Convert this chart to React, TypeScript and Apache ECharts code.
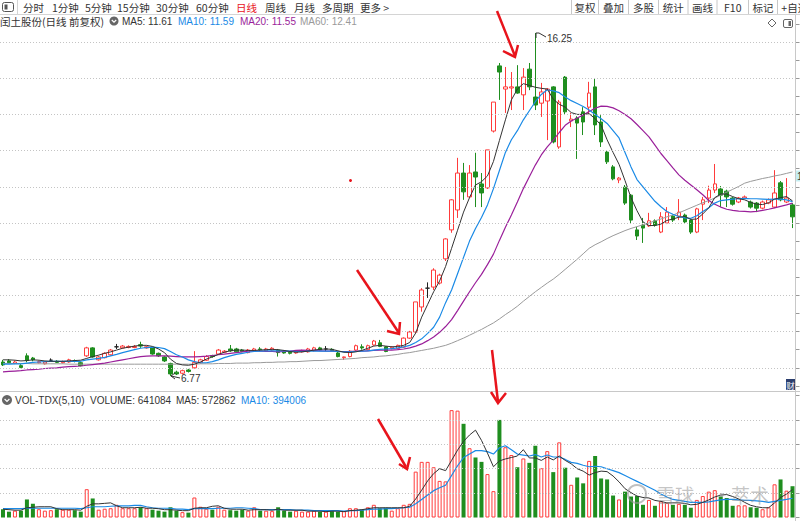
import React, { useEffect, useRef } from "react";
import * as echarts from "echarts";

// ---------- data ----------
const opens = [
  7.16,7.19,7.12,7.06,7.33,7.27,7.14,7.11,7.21,7.18,
  7.14,7.16,7.20,7.14,7.33,7.55,7.22,7.28,7.36,7.58,
  7.55,7.56,7.56,7.64,7.55,7.55,7.40,7.30,7.12,6.88,
  6.85,6.94,7.00,7.14,7.21,7.34,7.38,7.43,7.52,7.52,
  7.49,7.42,7.47,7.52,7.47,7.49,7.49,7.45,7.43,7.41,
  7.44,7.44,7.47,7.55,7.52,7.51,7.41,7.28,7.31,7.49,
  7.58,7.50,7.63,7.69,7.58,7.53,7.53,7.57,7.82,7.99,
  8.68,9.20,9.23,9.34,10.01,10.81,11.36,12.38,11.72,12.41,
  12.08,11.97,13.54,15.34,14.70,14.73,14.76,14.54,15.25,14.48,
  14.31,14.37,14.76,13.10,15.03,13.82,13.90,14.07,14.20,14.76,
  13.79,12.96,12.55,12.19,11.99,11.77,10.81,10.94,10.92,11.06,
  10.75,11.00,11.19,11.19,11.22,11.08,10.75,11.52,11.69,11.91,
  11.94,11.88,11.69,11.58,11.69,11.58,11.55,11.41,11.55,11.44,
  12.11,11.58,11.50,
];
const closes = [
  7.08,7.14,7.16,7.01,7.20,7.22,7.17,7.16,7.21,7.15,
  7.17,7.22,7.18,7.06,7.55,7.30,7.30,7.40,7.49,7.58,
  7.60,7.59,7.59,7.60,7.58,7.38,7.33,7.19,6.83,6.83,
  6.92,6.90,7.15,7.22,7.31,7.31,7.49,7.46,7.47,7.44,
  7.45,7.49,7.52,7.50,7.52,7.54,7.42,7.41,7.40,7.44,
  7.47,7.52,7.55,7.49,7.52,7.48,7.31,7.30,7.46,7.61,
  7.55,7.61,7.74,7.59,7.45,7.57,7.62,7.82,7.99,8.82,
  9.15,9.20,9.70,9.56,10.56,11.64,12.38,11.86,12.38,12.27,
  11.83,13.02,14.34,15.17,14.76,14.76,14.59,15.03,14.76,14.26,
  14.62,14.70,13.24,14.34,14.07,13.87,13.76,13.79,14.59,13.71,
  13.24,12.69,12.22,12.24,11.55,11.08,10.64,10.86,11.06,10.94,
  11.17,11.30,11.08,11.30,11.03,10.75,11.39,11.64,11.91,12.08,
  11.77,11.72,11.52,11.69,11.72,11.44,11.41,11.58,11.64,11.83,
  11.64,11.69,11.17,
];
const lows = [
  7.05,7.12,7.10,6.99,7.15,7.18,7.12,7.09,7.17,7.13,
  7.12,7.14,7.15,7.04,7.30,7.28,7.20,7.26,7.34,7.52,
  7.53,7.54,7.54,7.55,7.53,7.36,7.30,7.16,6.77,6.80,
  6.82,6.87,6.98,7.12,7.19,7.28,7.36,7.41,7.44,7.42,
  7.43,7.40,7.45,7.46,7.45,7.47,7.31,7.39,7.37,7.39,
  7.42,7.42,7.45,7.47,7.46,7.46,7.29,7.22,7.29,7.47,
  7.50,7.48,7.61,7.57,7.43,7.51,7.51,7.55,7.80,7.97,
  8.55,8.93,9.15,9.30,9.95,10.73,11.14,11.64,11.69,11.44,
  11.44,11.94,13.50,14.40,14.04,14.12,14.57,14.12,14.67,14.12,
  13.93,13.29,13.20,13.05,14.00,13.65,12.77,13.43,13.98,13.43,
  13.10,12.63,12.18,12.10,11.50,11.00,10.53,10.45,10.89,10.90,
  10.72,10.97,11.03,11.08,11.00,10.70,10.72,11.08,11.55,11.83,
  11.44,11.44,11.48,11.55,11.66,11.40,11.30,11.38,11.52,11.41,
  11.60,11.55,10.86,
];
const highs = [
  7.22,7.24,7.20,7.10,7.40,7.30,7.20,7.19,7.26,7.21,
  7.20,7.25,7.23,7.17,7.58,7.57,7.33,7.43,7.52,7.66,
  7.63,7.62,7.63,7.72,7.61,7.58,7.42,7.32,7.14,6.92,
  6.95,6.97,7.46,7.25,7.35,7.36,7.52,7.49,7.63,7.55,
  7.52,7.52,7.55,7.57,7.55,7.57,7.52,7.48,7.46,7.47,
  7.50,7.55,7.58,7.58,7.60,7.54,7.44,7.31,7.49,7.64,
  7.65,7.64,7.77,7.77,7.60,7.60,7.64,7.84,8.02,8.82,
  9.20,9.36,9.75,9.60,10.58,11.66,12.80,12.66,12.60,12.94,
  12.38,13.02,14.34,15.42,15.31,15.17,15.36,15.28,15.42,16.25,
  14.87,14.73,14.78,14.40,15.06,14.04,13.95,14.20,14.90,15.00,
  13.98,13.00,12.60,12.27,12.05,11.80,10.89,11.14,11.28,11.10,
  11.30,11.44,11.22,11.66,11.26,11.10,11.42,11.72,12.03,12.63,
  12.02,11.92,11.72,11.72,11.76,11.62,11.58,11.62,11.68,12.46,
  12.16,12.24,11.55,
];
const ma5 = [
  7.22,7.22,7.21,7.19,7.20,7.22,7.21,7.19,7.18,7.18,
  7.18,7.19,7.20,7.21,7.26,7.31,7.35,7.40,7.44,7.49,
  7.54,7.57,7.60,7.62,7.62,7.59,7.52,7.42,7.24,7.12,
  7.08,7.07,7.10,7.16,7.24,7.30,7.37,7.43,7.47,7.49,
  7.49,7.48,7.48,7.49,7.50,7.51,7.50,7.48,7.45,7.43,
  7.44,7.46,7.49,7.51,7.52,7.51,7.47,7.43,7.42,7.44,
  7.48,7.54,7.60,7.62,7.60,7.58,7.59,7.62,7.70,7.96,
  8.40,8.75,9.10,9.40,9.80,10.30,10.80,11.30,11.70,12.05,
  12.14,12.30,12.70,13.28,13.85,14.40,14.70,14.85,14.80,14.75,
  14.72,14.70,14.42,14.28,14.20,14.05,14.00,14.00,14.02,13.88,
  13.70,13.30,12.95,12.62,12.17,11.70,11.34,11.03,10.93,10.93,
  10.97,11.07,11.11,11.16,11.18,11.10,11.11,11.25,11.42,11.70,
  11.80,11.80,11.73,11.67,11.64,11.57,11.52,11.51,11.56,11.66,
  11.70,11.73,11.61,
];
const ma10 = [
  7.10,7.10,7.11,7.11,7.13,7.15,7.16,7.17,7.18,7.18,
  7.18,7.18,7.18,7.18,7.22,7.24,7.26,7.29,7.33,7.37,
  7.42,7.46,7.50,7.54,7.56,7.57,7.56,7.53,7.45,7.36,
  7.30,7.22,7.17,7.14,7.14,7.17,7.22,7.28,7.33,7.37,
  7.40,7.43,7.45,7.46,7.47,7.47,7.47,7.47,7.46,7.45,
  7.45,7.46,7.46,7.46,7.46,7.46,7.45,7.44,7.44,7.45,
  7.46,7.47,7.49,7.51,7.52,7.53,7.55,7.58,7.62,7.70,
  7.80,7.95,8.12,8.40,8.80,9.15,9.60,10.05,10.50,10.85,
  11.15,11.50,11.95,12.45,12.95,13.30,13.55,13.85,14.10,14.35,
  14.55,14.68,14.65,14.60,14.48,14.38,14.30,14.22,14.12,14.00,
  13.88,13.75,13.55,13.35,12.95,12.55,12.20,12.00,11.80,11.60,
  11.45,11.32,11.24,11.18,11.14,11.13,11.20,11.32,11.42,11.55,
  11.62,11.64,11.66,11.67,11.68,11.67,11.67,11.66,11.65,11.66,
  11.66,11.64,11.59,
];
const ma20 = [
  6.89,6.90,6.91,6.92,6.94,6.95,6.96,6.98,6.99,7.00,
  7.02,7.03,7.04,7.05,7.07,7.09,7.11,7.13,7.16,7.19,
  7.22,7.25,7.28,7.31,7.32,7.33,7.33,7.33,7.32,7.31,
  7.30,7.30,7.30,7.31,7.32,7.34,7.36,7.38,7.40,7.42,
  7.44,7.46,7.46,7.46,7.45,7.45,7.44,7.45,7.46,7.48,
  7.49,7.48,7.48,7.47,7.46,7.46,7.45,7.45,7.45,7.46,
  7.46,7.47,7.48,7.49,7.49,7.49,7.50,7.52,7.55,7.60,
  7.66,7.75,7.85,7.98,8.14,8.33,8.58,8.84,9.10,9.35,
  9.58,9.85,10.14,10.52,10.88,11.22,11.58,11.95,12.28,12.60,
  12.88,13.10,13.29,13.50,13.70,13.82,13.90,13.98,14.08,14.17,
  14.23,14.22,14.18,14.10,14.00,13.88,13.72,13.55,13.38,13.15,
  12.92,12.72,12.52,12.33,12.18,12.05,11.92,11.78,11.62,11.52,
  11.44,11.38,11.35,11.33,11.32,11.31,11.32,11.35,11.38,11.42,
  11.46,11.50,11.55,
];
const ma60 = [
  7.12,7.12,7.12,7.12,7.12,7.11,7.11,7.11,7.11,7.11,
  7.11,7.10,7.10,7.10,7.10,7.10,7.10,7.10,7.10,7.10,
  7.10,7.10,7.10,7.10,7.10,7.10,7.10,7.10,7.10,7.10,
  7.10,7.10,7.10,7.11,7.11,7.11,7.12,7.12,7.12,7.13,
  7.13,7.13,7.14,7.14,7.15,7.15,7.16,7.16,7.17,7.17,
  7.18,7.19,7.20,7.20,7.21,7.22,7.23,7.24,7.25,7.26,
  7.28,7.29,7.30,7.32,7.33,7.35,7.37,7.40,7.42,7.45,
  7.48,7.51,7.54,7.58,7.62,7.68,7.75,7.82,7.90,7.98,
  8.06,8.15,8.24,8.35,8.47,8.58,8.70,8.84,8.97,9.10,
  9.22,9.34,9.45,9.58,9.72,9.86,10.00,10.15,10.30,10.40,
  10.48,10.57,10.65,10.72,10.79,10.85,10.90,10.95,11.00,11.06,
  11.11,11.17,11.22,11.28,11.35,11.42,11.49,11.56,11.62,11.69,
  11.77,11.85,11.93,12.01,12.10,12.15,12.19,12.23,12.26,12.30,
  12.33,12.37,12.41,
];
// volume in thousands of shares
const volumesK = [
  170,120,140,140,370,280,170,140,150,170,
  160,160,150,120,580,390,160,180,190,260,
  190,190,190,210,190,160,140,120,210,140,
  110,100,410,220,180,160,220,160,150,140,
  160,140,210,140,140,130,210,140,120,140,
  120,120,140,120,120,130,120,130,190,190,
  160,210,260,190,200,140,190,260,280,940,
  1140,1140,1030,750,740,2200,2190,1920,1420,1230,
  1140,890,540,2000,1440,1280,1030,1210,1120,1470,
  1010,1360,930,1540,1020,670,820,700,1160,1260,
  800,780,450,370,530,430,440,260,360,240,
  330,300,260,280,260,200,360,440,530,560,
  430,400,240,250,250,210,200,170,210,680,
  780,550,641.084,
];
// volume moving averages, millions of shares
const volMa5 = [
  0.17,0.16,0.15,0.15,0.20,0.21,0.22,0.22,0.22,0.18,
  0.16,0.16,0.16,0.15,0.23,0.28,0.28,0.29,0.30,0.24,
  0.20,0.20,0.20,0.21,0.19,0.19,0.18,0.16,0.16,0.15,
  0.14,0.14,0.19,0.20,0.20,0.23,0.24,0.19,0.17,0.17,
  0.17,0.15,0.16,0.16,0.16,0.15,0.17,0.15,0.15,0.15,
  0.15,0.13,0.13,0.13,0.12,0.13,0.13,0.12,0.14,0.15,
  0.16,0.18,0.20,0.20,0.20,0.20,0.20,0.20,0.23,0.38,
  0.56,0.75,0.90,1.00,0.96,1.17,1.38,1.56,1.69,1.79,
  1.58,1.32,1.04,1.16,1.20,1.23,1.26,1.39,1.22,1.22,
  1.17,1.24,1.18,1.26,1.17,1.10,1.00,0.95,0.87,0.92,
  0.95,0.94,0.85,0.73,0.59,0.51,0.44,0.41,0.40,0.35,
  0.33,0.30,0.30,0.30,0.29,0.26,0.27,0.31,0.36,0.42,
  0.46,0.47,0.43,0.38,0.31,0.25,0.22,0.20,0.20,0.30,
  0.41,0.48,0.572862,
];
const volMa10 = [
  0.18,0.18,0.18,0.18,0.19,0.19,0.19,0.19,0.19,0.19,
  0.19,0.19,0.19,0.18,0.20,0.22,0.22,0.22,0.23,0.24,
  0.24,0.24,0.25,0.25,0.22,0.20,0.19,0.19,0.19,0.17,
  0.17,0.16,0.18,0.18,0.18,0.18,0.19,0.19,0.19,0.20,
  0.20,0.19,0.18,0.16,0.16,0.16,0.16,0.16,0.16,0.15,
  0.15,0.15,0.14,0.14,0.14,0.14,0.14,0.13,0.14,0.14,
  0.15,0.16,0.17,0.17,0.18,0.18,0.19,0.20,0.21,0.28,
  0.37,0.46,0.55,0.61,0.66,0.86,1.06,1.23,1.30,1.37,
  1.37,1.35,1.30,1.43,1.47,1.39,1.30,1.28,1.26,1.29,
  1.24,1.28,1.24,1.24,1.19,1.13,1.11,1.07,1.04,1.05,
  1.04,1.00,0.96,0.92,0.86,0.80,0.74,0.68,0.62,0.56,
  0.48,0.42,0.37,0.35,0.33,0.31,0.31,0.31,0.32,0.34,
  0.36,0.37,0.37,0.36,0.35,0.35,0.34,0.33,0.31,0.33,
  0.35,0.37,0.394006,
];
const priceGridLines = [7, 8, 9, 10, 11, 12, 13, 14, 15, 16];
const volGridLines = [500000, 1000000, 1500000, 2000000];
const periodTabs = ["分时", "1分钟", "5分钟", "15分钟", "30分钟", "60分钟", "日线", "周线", "月线", "多周期", "更多 >"];
const periodTabX = [23, 52, 85, 117, 156, 196, 236, 265, 294, 322, 360];
const toolButtons = ["复权", "叠加", "多股", "统计", "画线", "F10", "标记", "+自选"];
const toolButtonEdges = [571.5, 598.5, 628.5, 658.5, 688, 717, 748.5, 777.5, 812];
const categories = opens.map((_, i) => String(i + 1));

// ---------- styling ----------
const RED = "#ff3b3b";
const GREEN = "#1f8e1f";
const CJK = '"Noto Sans CJK SC", "Noto Sans", sans-serif';
const LAT = '"Liberation Sans", Arial, sans-serif';
const GRID_W = 795.5;

function txt(x: number, y: number, text: string, fill = "#333", size = 10, align = "left", family = LAT) {
  return {
    type: "text",
    x, y, z: 50,
    silent: true,
    style: { text, fill, fontSize: size, fontFamily: family, textAlign: align, textVerticalAlign: "middle", align, verticalAlign: "middle" },
  };
}
function ln(x1: number, y1: number, x2: number, y2: number, stroke = "#ccc", lineWidth = 1, z = 40) {
  return { type: "line", z, silent: true, shape: { x1, y1, x2, y2 }, style: { stroke, lineWidth } };
}
function poly(points: number[][], stroke: string, lineWidth = 1, z = 60) {
  return { type: "polyline", z, silent: true, shape: { points }, style: { stroke, lineWidth, fill: "none" } };
}

function buildOption() {
  const candleData = opens.map((o, i) => [o, closes[i], lows[i], highs[i]]);
  const volData = volumesK.map((v, i) => {
    const up = closes[i] >= opens[i];
    return {
      value: v * 1000,
      itemStyle: up
        ? { color: "rgba(255,255,255,0)", borderColor: RED, borderWidth: 1 }
        : { color: GREEN, borderColor: GREEN, borderWidth: 0 },
    };
  });

  const graphics: any[] = [];
  // toolbar
  graphics.push(ln(0, 14.5, 800, 14.5, "#d4d4d4"));
  graphics.push({ type: "rect", z: 50, silent: true, shape: { x: 2.5, y: 2.5, width: 11, height: 9, r: 2 }, style: { stroke: "#555", fill: "none", lineWidth: 1 } });
  graphics.push({ type: "rect", z: 50, silent: true, shape: { x: 4.5, y: 4.5, width: 3, height: 5 }, style: { fill: "#555" } });
  graphics.push(ln(17.5, 0, 17.5, 14, "#d4d4d4"));
  periodTabs.forEach((t, i) => graphics.push(txt(periodTabX[i], 7, t, t === "日线" ? "#e8141c" : "#333", 10.5, "left", CJK)));
  toolButtons.forEach((t, i) => {
    graphics.push(ln(toolButtonEdges[i], 0, toolButtonEdges[i], 14, "#c8c8c8"));
    graphics.push(txt((toolButtonEdges[i] + toolButtonEdges[i + 1]) / 2, 7, t, "#333", 10.5, "center", CJK));
  });
  // title row
  graphics.push(txt(0, 21, "闰土股份(日线 前复权)", "#333", 10.5, "left", CJK));
  graphics.push({ type: "circle", z: 50, silent: true, shape: { cx: 114, cy: 21, r: 4.5 }, style: { fill: "#666" } });
  graphics.push(poly([[111.8, 20], [114, 22.2], [116.2, 20]], "#fff", 1.2));
  graphics.push(txt(122, 21, "MA5: 11.61", "#333", 10));
  graphics.push(txt(178, 21, "MA10: 11.59", "#1a8ae6", 10));
  graphics.push(txt(240, 21, "MA20: 11.55", "#9a1f9a", 10));
  graphics.push(txt(300, 21, "MA60: 12.41", "#9a9a9a", 10));
  // top-right icons
  graphics.push({ type: "polygon", z: 50, silent: true, shape: { points: [[772, 19], [776, 23], [772, 27], [768, 23]] }, style: { stroke: "#666", fill: "none", lineWidth: 1 } });
  graphics.push({ type: "rect", z: 50, silent: true, shape: { x: 783.5, y: 19.5, width: 9, height: 8, r: 1.5 }, style: { stroke: "#666", fill: "none", lineWidth: 1 } });
  graphics.push({ type: "rect", z: 50, silent: true, shape: { x: 788.5, y: 21, width: 2.5, height: 5 }, style: { fill: "#666" } });
  // frame lines
  graphics.push(ln(0, 391.5, 800, 391.5, "#c8c8c8"));
  graphics.push(ln(795.5, 15, 795.5, 521, "#c8c8c8"));
  // right edge badges
  graphics.push({ type: "rect", z: 50, silent: true, shape: { x: 796, y: 170.5, width: 6, height: 11 }, style: { fill: "#c6eef2" } });
  graphics.push(txt(797, 176, "1", "#333", 10));
  graphics.push({ type: "rect", z: 50, silent: true, shape: { x: 786, y: 379, width: 9, height: 11 }, style: { fill: "#2c3e6e" } });
  graphics.push(txt(790.5, 384.5, "财", "#fff", 8.5, "center", CJK));
  // volume header
  graphics.push({ type: "circle", z: 50, silent: true, shape: { cx: 7, cy: 400, r: 5 }, style: { fill: "#666" } });
  graphics.push(poly([[4.6, 399], [7, 401.4], [9.4, 399]], "#fff", 1.2));
  graphics.push(txt(15, 400, "VOL-TDX(5,10)", "#333", 10));
  graphics.push(txt(90, 400, "VOLUME: 641084", "#333", 10));
  graphics.push(txt(176, 400, "MA5: 572862", "#333", 10));
  graphics.push(txt(241, 400, "MA10: 394006", "#1a8ae6", 10));
  // max / min markers
  graphics.push(poly([[536, 38], [536, 33], [539, 33], [546, 37]], "#333", 1));
  graphics.push(txt(547, 38, "16.25", "#333", 10));
  graphics.push(poly([[175, 373], [171, 376], [175, 379]], "#333", 1));
  graphics.push(ln(171, 376, 180, 378, "#333", 1, 60));
  graphics.push(txt(181, 378, "6.77", "#333", 10));
  // stray red dot
  graphics.push({ type: "circle", z: 60, silent: true, shape: { cx: 350.5, cy: 180.5, r: 1.5 }, style: { fill: "#e8141c" } });
  // red annotation arrows
  const AR = "#e8141c";
  graphics.push(ln(497, 11, 515, 56, AR, 2.5, 70));
  graphics.push(poly([[503, 51], [515, 57], [518, 45]], AR, 2.5, 70));
  graphics.push(ln(357, 270, 399, 333, AR, 2.5, 70));
  graphics.push(poly([[387, 331], [399, 334], [400, 322]], AR, 2.5, 70));
  graphics.push(ln(378, 419, 406, 467, AR, 2.5, 70));
  graphics.push(poly([[399, 464], [407, 469], [410, 457]], AR, 2.5, 70));
  graphics.push(ln(492, 350, 498, 402, AR, 2.5, 70));
  graphics.push(poly([[491, 392], [498, 403], [506, 393]], AR, 2.5, 70));
  // watermark
  graphics.push({ type: "circle", z: 45, silent: true, shape: { cx: 637, cy: 494, r: 9 }, style: { stroke: "rgba(150,150,150,0.6)", fill: "none", lineWidth: 2 } });
  graphics.push(txt(656, 494, "雪球", "rgba(140,140,140,0.5)", 19, "left", CJK));
  graphics.push(txt(712, 494, "·", "rgba(140,140,140,0.5)", 19, "left", CJK));
  graphics.push(txt(731, 494, "萃术", "rgba(140,140,140,0.5)", 19, "left", CJK));

  return {
    animation: false,
    backgroundColor: "#ffffff",
    grid: [
      { left: 0, top: 23.9, width: GRID_W, height: 362 },
      { left: 0, top: 395.5, width: GRID_W, height: 122 },
    ],
    xAxis: [
      { type: "category", gridIndex: 0, data: categories, boundaryGap: true, axisLine: { show: false }, axisTick: { show: false }, axisLabel: { show: false }, splitLine: { show: false } },
      { type: "category", gridIndex: 1, data: categories, boundaryGap: true, axisLine: { show: false }, axisTick: { show: false }, axisLabel: { show: false }, splitLine: { show: false } },
    ],
    yAxis: [
      { type: "value", gridIndex: 0, position: "right", min: 6.5, max: 16.5, interval: 0.5,
        axisLine: { show: false }, axisTick: { show: true, inside: false, length: 4, lineStyle: { color: "#999" } },
        axisLabel: { show: false }, splitLine: { show: false } },
      { type: "value", gridIndex: 1, position: "right", min: 0, max: 2500000, interval: 500000,
        axisLine: { show: false }, axisTick: { show: true, inside: false, length: 4, lineStyle: { color: "#999" } },
        axisLabel: { show: false }, splitLine: { show: false } },
    ],
    series: [
      { type: "line", xAxisIndex: 0, yAxisIndex: 0, z: 1, data: closes, showSymbol: false, silent: true,
        lineStyle: { opacity: 0 },
        markLine: { silent: true, symbol: ["none", "none"], label: { show: false },
          lineStyle: { color: "#c4c4c4", type: [1, 2], width: 1 },
          data: priceGridLines.map((v) => ({ yAxis: v })) } },
      { type: "candlestick", xAxisIndex: 0, yAxisIndex: 0, z: 2, barWidth: 4, data: candleData,
        itemStyle: { color: "rgba(255,255,255,0)", color0: GREEN, borderColor: RED, borderColor0: GREEN, borderColorDoji: "#222", borderWidth: 1 } },
      { type: "line", name: "MA60", xAxisIndex: 0, yAxisIndex: 0, z: 3, data: ma60, showSymbol: false, silent: true, lineStyle: { color: "#9a9a9a", width: 1 } },
      { type: "line", name: "MA20", xAxisIndex: 0, yAxisIndex: 0, z: 3, data: ma20, showSymbol: false, silent: true, lineStyle: { color: "#9a1f9a", width: 1.2 } },
      { type: "line", name: "MA10", xAxisIndex: 0, yAxisIndex: 0, z: 3, data: ma10, showSymbol: false, silent: true, lineStyle: { color: "#1a8ae6", width: 1.2 } },
      { type: "line", name: "MA5", xAxisIndex: 0, yAxisIndex: 0, z: 3, data: ma5, showSymbol: false, silent: true, lineStyle: { color: "#333", width: 1 } },
      { type: "bar", xAxisIndex: 1, yAxisIndex: 1, z: 2, barWidth: 4, data: volData, silent: true,
        markLine: { silent: true, symbol: ["none", "none"], label: { show: false },
          lineStyle: { color: "#c4c4c4", type: [1, 2], width: 1 },
          data: volGridLines.map((v) => ({ yAxis: v })) } },
      { type: "line", xAxisIndex: 1, yAxisIndex: 1, z: 3, data: volMa10.map((v) => v * 1e6), showSymbol: false, silent: true, lineStyle: { color: "#1a8ae6", width: 1.2 } },
      { type: "line", xAxisIndex: 1, yAxisIndex: 1, z: 3, data: volMa5.map((v) => v * 1e6), showSymbol: false, silent: true, lineStyle: { color: "#333", width: 1 } },
    ],
    graphic: graphics,
  };
}

export default function App() {
  const ref = useRef<HTMLDivElement>(null);
  useEffect(() => {
    if (!ref.current) return;
    const chart = echarts.init(ref.current, null, { renderer: "svg" });
    chart.setOption(buildOption() as any);
    return () => chart.dispose();
  }, []);
  return <div ref={ref} style={{ position: "absolute", left: 0, top: 0, width: 800, height: 521, background: "#fff" }} />;
}
